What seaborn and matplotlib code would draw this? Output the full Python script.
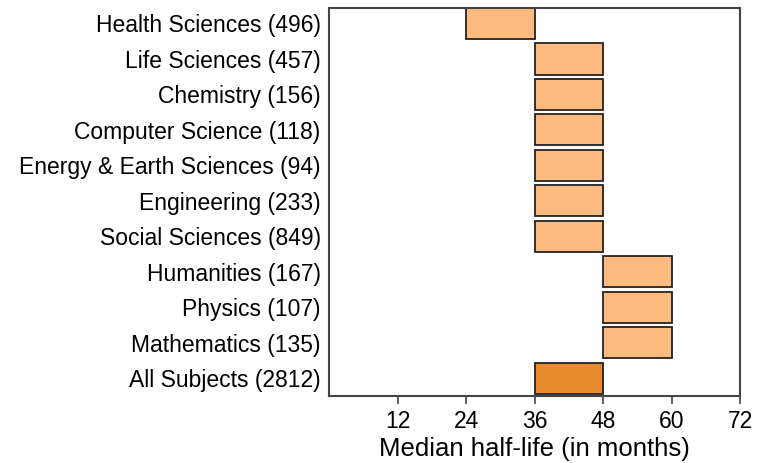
import numpy as np
import pandas as pd
import matplotlib
matplotlib.use('Agg')
import matplotlib.pyplot as plt
import seaborn as sns

subjects = ['Health Sciences (496)', 'Life Sciences (457)', 'Chemistry (156)',
            'Computer Science (118)', 'Energy & Earth Sciences (94)',
            'Engineering (233)', 'Social Sciences (849)', 'Humanities (167)',
            'Physics (107)', 'Mathematics (135)', 'All Subjects (2812)']
low = [24, 36, 36, 36, 36, 36, 36, 48, 48, 48, 36]
high = [36, 48, 48, 48, 48, 48, 48, 60, 60, 60, 48]
xticks = [12, 24, 36, 48, 60, 72]

sns.set_style('white')
plt.rcParams['font.family'] = ['Liberation Sans', 'DejaVu Sans']
plt.rcParams['text.color'] = 'black'
plt.rcParams['xtick.color'] = 'black'
plt.rcParams['ytick.color'] = 'black'
plt.rcParams['axes.labelcolor'] = 'black'

df = pd.DataFrame({'subject': subjects, 'low': low, 'high': high})
df['width'] = df['high'] - df['low']
colors = ['#fdbb80'] * (len(df) - 1) + ['#e98a2e']

fig = plt.figure(figsize=(7.6, 4.63), dpi=100)
ax = fig.add_axes([0.433, 0.145, 0.541, 0.838])
sns.barplot(data=df, x='width', y='subject', hue='subject', palette=colors,
            legend=False, width=0.88, edgecolor='#222222', linewidth=1.3,
            saturation=1, ax=ax)

# shift each bar so it starts at its lower bound
for patch, start in zip(ax.patches, df['low']):
    patch.set_x(start)

ax.set_xlim(0, 72)
ax.set_ylim(10.5, -0.44)
ax.set_xticks(xticks)
ax.set_xlabel('Median half-life (in months)', fontsize=18.5, labelpad=3)
ax.set_ylabel('')
ax.tick_params(axis='x', direction='out', length=6, width=1.2, color='#444444',
               labelsize=16.5, pad=4, bottom=True)
ax.tick_params(axis='y', length=0, labelsize=16.5, pad=6)
for s in ax.spines.values():
    s.set_visible(True)
    s.set_color('#444444')
    s.set_linewidth(1.5)

fig.savefig('out.png', dpi=100)
